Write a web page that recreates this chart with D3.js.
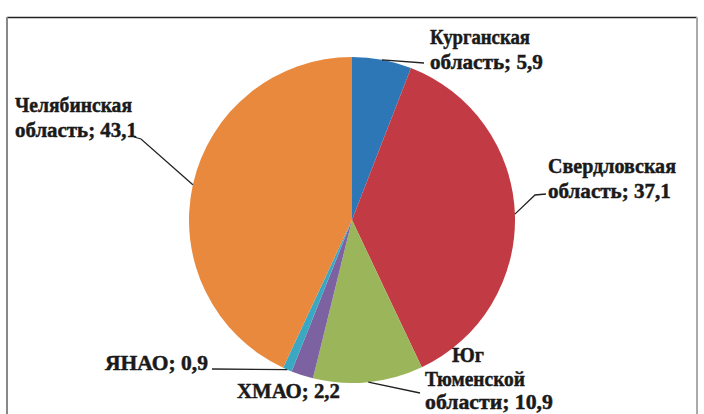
<!DOCTYPE html>
<html><head><meta charset="utf-8">
<script src="https://cdn.jsdelivr.net/npm/d3@7"></script>
<style>body{margin:0;background:#fff}svg{display:block}
.lbl{font-family:"Liberation Serif","Times New Roman",serif;font-weight:bold;font-size:20px;fill:#1a1a1a;stroke:#1a1a1a;stroke-width:0.45px}</style>
</head><body>
<svg id="c" width="704" height="414"></svg>
<script>
const categories = ["Курганская область", "Свердловская область", "Юг Тюменской области", "ХМАО", "ЯНАО", "Челябинская область"];
const values = [5.9, 37.1, 10.9, 2.2, 0.9, 43.1];
const valueLabels = ["5,9", "37,1", "10,9", "2,2", "0,9", "43,1"];
const labelLines = [
  ["Курганская", "область; 5,9"],
  ["Свердловская", "область; 37,1"],
  ["Юг", "Тюменской", "области; 10,9"],
  ["ХМАО; 2,2"],
  ["ЯНАО; 0,9"],
  ["Челябинская", "область; 43,1"]
];
const colors = ["#2E77B7", "#C13A44", "#9BB65A", "#7D62A1", "#3AA8C3", "#E8893E"];

const svg = d3.select("#c");
// frame
svg.append("line").attr("x1",7).attr("x2",697).attr("y1",17.5).attr("y2",17.5).attr("stroke","#222").attr("stroke-width",1.5);
svg.append("line").attr("x1",7).attr("x2",7).attr("y1",17).attr("y2",414).attr("stroke","#888").attr("stroke-width",2);
svg.append("line").attr("x1",697).attr("x2",697).attr("y1",17).attr("y2",414).attr("stroke","#aaa").attr("stroke-width",2);

const cx = 352, cy = 220, r = 163;
const pie = d3.pie().sort(null).value(d => d)(values);
const arc = d3.arc().innerRadius(0).outerRadius(r);
const g = svg.append("g").attr("transform", `translate(${cx},${cy})`);
g.selectAll("path").data(pie).join("path")
  .attr("d", arc).attr("fill", (d,i) => colors[i]);

// per-line: [x, baseline y, width]
const labelPos = [
  [[430, 44, 100], [430, 69, 113]],
  [[548, 173, 128], [548, 198, 123]],
  [[452, 362, 32], [425, 386, 100], [425, 409, 128]],
  [[237, 398, 103]],
  [[105, 370, 103]],
  [[15, 112, 117], [15, 137, 122]]
];
const leaderEnds = [
  [[424, 63]],
  [[535, 195], [546, 194]],
  [[420, 393]],
  null,
  [[212, 369]],
  [[141, 139], [134, 137]]
];
const edge = d3.arc().innerRadius(r).outerRadius(r);
pie.forEach((d, i) => {
  if (leaderEnds[i]) {
    const c = edge.centroid(d);
    const pts = [[cx + c[0], cy + c[1]]].concat(leaderEnds[i]);
    svg.append("path").attr("d", d3.line()(pts)).attr("fill","none").attr("stroke","#222").attr("stroke-width",1.3);
  }
  labelLines[i].forEach((ln, k) => {
    const [x, y, w] = labelPos[i][k];
    const t = svg.append("text").attr("class","lbl")
      .attr("transform", `translate(${x},${y})`).text(ln);
    const bw = t.node().getComputedTextLength();
    t.attr("transform", `translate(${x},${y}) scale(${w / bw},1.08)`);
  });
});
</script>
</body></html>
